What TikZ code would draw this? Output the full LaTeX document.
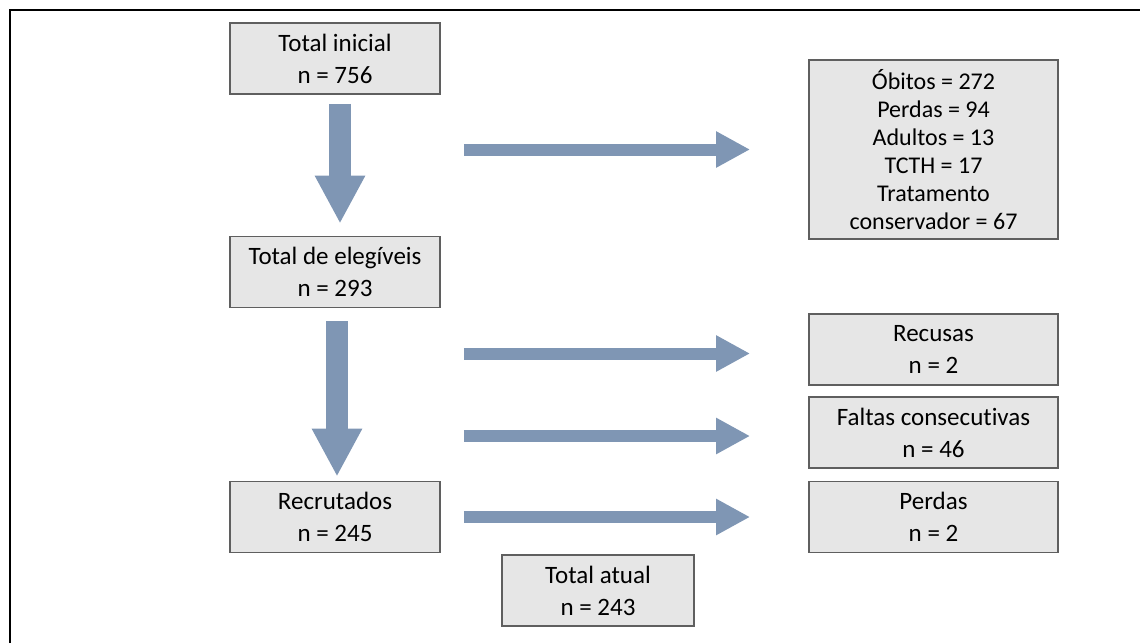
\documentclass[tikz,border=0pt]{standalone}
\usepackage{fontspec}
\setmainfont{Carlito}[Ligatures={TeX,NoCommon}]
\usetikzlibrary{arrows.meta}

\definecolor{boxfill}{RGB}{230,230,230}
\definecolor{boxline}{RGB}{95,95,95}
\definecolor{arrowblue}{RGB}{127,150,180}

\begin{document}
\begin{tikzpicture}[x=0.5pt, y=-0.5pt,
	caixa/.style={draw=boxline, fill=boxfill, line width=0.9pt, align=center, inner sep=0pt,
		minimum width=105pt, minimum height=35.5pt, font=\fontsize{12.5}{16}\selectfont},
	caixadir/.style={caixa, minimum width=124.5pt},
	setabaixo/.style={draw=arrowblue, line width=11pt, -{Triangle[length=24pt, width=23.5pt]}},
	setalado/.style={draw=arrowblue, line width=6pt, -{Triangle[length=17pt, width=17pt]}}]
	\useasboundingbox (0,0) rectangle (1140,643);
	\draw [line width=1pt] (9.5,643) -- (9.5,9.5) -- (1140,9.5);
	
	\node [caixa] (ini) at (335,58.5) {Total inicial\\n = 756};
	\node [caixa] (eleg) at (335,272) {Total de elegíveis\\n = 293};
	\node [caixa] (recr) at (335,517) {Recrutados\\n = 245};
	\node [caixa, minimum width=96pt] (atual) at (598,590.5) {Total atual\\n = 243};
	
	\node [caixadir, minimum height=89.5pt, font=\fontsize{12}{14}\selectfont] (obitos) at (933.5,149.5)
		{Óbitos = 272\\Perdas = 94\\Adultos = 13\\TCTH = 17\\Tratamento\\conservador = 67};
	\node [caixadir] (recusas) at (933.5,349.5) {Recusas\\n = 2};
	\node [caixadir] (faltas) at (933.5,432.5) {Faltas consecutivas\\n = 46};
	\node [caixadir] (perdas) at (933.5,517) {Perdas\\n = 2};
	
	\draw [setabaixo] ([xshift=2.5pt, yshift=-4.5pt]ini.south) -- ([xshift=2.5pt, yshift=6pt]eleg.north);
	\draw [setabaixo] ([xshift=1pt, yshift=-6.5pt]eleg.south) -- ([xshift=1pt, yshift=2pt]recr.north);
	
	\draw [setalado] ([xshift=11.5pt]ini.east |- obitos.west) -- ([xshift=-29pt]obitos.west);
	\draw [setalado] ([xshift=11.5pt, yshift=-2pt]eleg.east |- recusas.west) -- ([xshift=-29pt, yshift=-2pt]recusas.west);
	\draw [setalado] ([xshift=11.5pt, yshift=-1.75pt]eleg.east |- faltas.west) -- ([xshift=-29pt, yshift=-1.75pt]faltas.west);
	\draw [setalado] ([xshift=11.5pt]recr.east |- perdas.west) -- ([xshift=-29pt]perdas.west);
\end{tikzpicture}
\end{document}
